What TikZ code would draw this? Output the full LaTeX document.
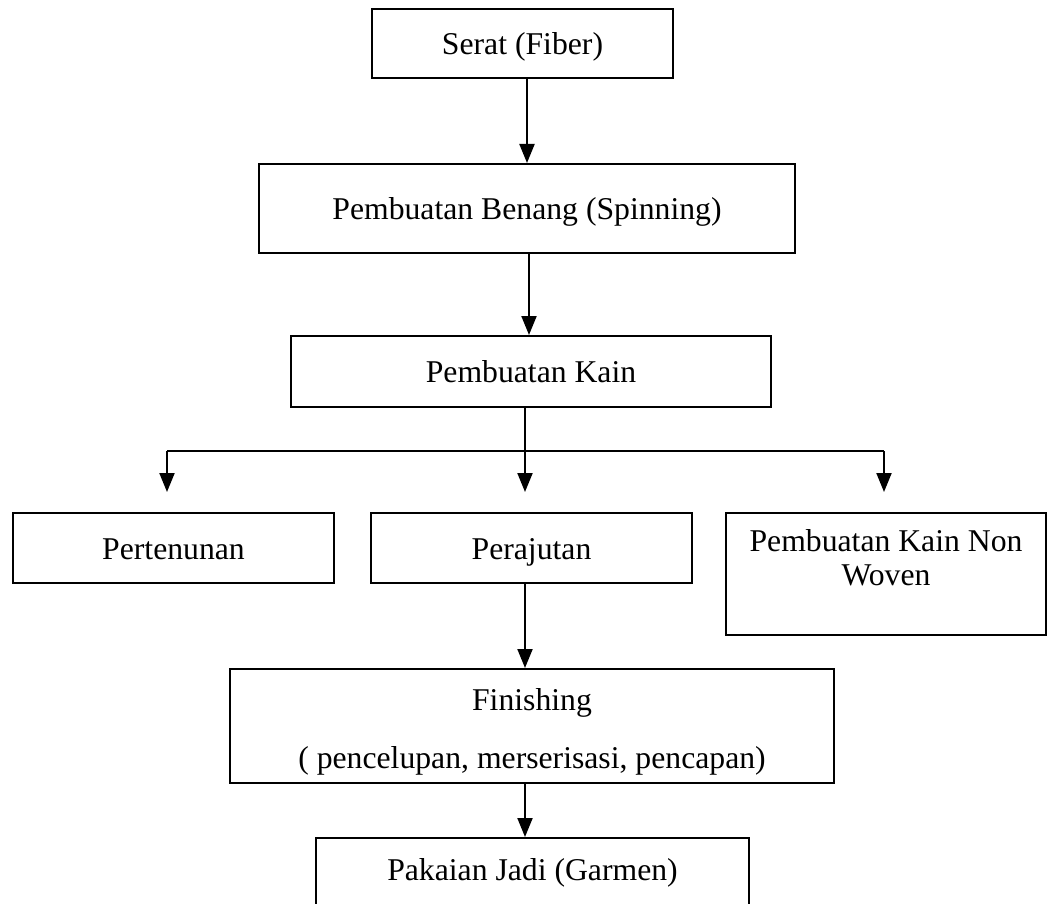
\documentclass[tikz,border=0pt]{standalone}
\usepackage{fontspec}
\setmainfont{Liberation Serif}
\usetikzlibrary{arrows.meta}
\begin{document}
\begin{tikzpicture}[x=0.5pt,y=-0.5pt,
  box/.style={draw=black, line width=1pt, rectangle, inner sep=0pt,
    font=\fontsize{15.85pt}{18pt}\selectfont, align=center},
  one/.style={text height=11pt, text depth=0pt},
  conn/.style={line width=1pt, draw=black},
  arr/.style={conn, -{Triangle[width=7.5pt,length=9.5pt]}}]
\useasboundingbox (0,0) rectangle (1049,904);
\node[box, one, minimum width=150.5pt, minimum height=34.5pt] (serat) at (522.5,43.5) {Serat (Fiber)};
\node[box, one, minimum width=268pt, minimum height=44.5pt] (benang) at (527,208.5) {Pembuatan Benang (Spinning)};
\node[box, one, minimum width=240pt, minimum height=35.5pt] (kain) at (531,371.5) {Pembuatan Kain};
\node[box, one, minimum width=160.5pt, minimum height=35pt] (tenun) at (173.5,548) {Pertenunan};
\node[box, one, minimum width=160.5pt, minimum height=35pt] (rajut) at (531.5,548) {Perajutan};
\node[box, font=\fontsize{15.85pt}{17pt}\selectfont, minimum width=160pt, minimum height=61pt] (nonwoven) at (886,574) {Pembuatan Kain Non\\Woven\\\mbox{}};
\node[box, font=\fontsize{15.85pt}{29pt}\selectfont, minimum width=302pt, minimum height=57pt] (finish) at (532,726) {\raisebox{-3pt}[\height][\depth]{Finishing}\\\raisebox{-3pt}[\height][\depth]{( pencelupan, merserisasi, pencapan)}};
\node[box, text height=11pt, text depth=19pt, minimum width=216.5pt, minimum height=50pt] (pakaian) at (532.5,888) {Pakaian Jadi (Garmen)};
\coordinate (ax) at (527,0);
\coordinate (bx) at (529,0);
\coordinate (cx) at (525,0);
\coordinate (lx) at (167,0);
\coordinate (rx) at (884,0);
\coordinate (hy) at (0,451);
\coordinate (ty) at (0,492);
\draw[arr] (serat.south -| ax) -- (benang.north -| ax);
\draw[arr] (benang.south -| bx) -- (kain.north -| bx);
\draw[conn] (kain.south -| cx) -- (cx |- hy);
\draw[conn] (lx |- hy) -- (rx |- hy);
\draw[arr] (lx |- hy) -- (lx |- ty);
\draw[arr] (cx |- hy) -- (cx |- ty);
\draw[arr] (rx |- hy) -- (rx |- ty);
\draw[arr] (rajut.south -| cx) -- (finish.north -| cx);
\draw[arr] (finish.south -| cx) -- (pakaian.north -| cx);
\end{tikzpicture}
\end{document}
